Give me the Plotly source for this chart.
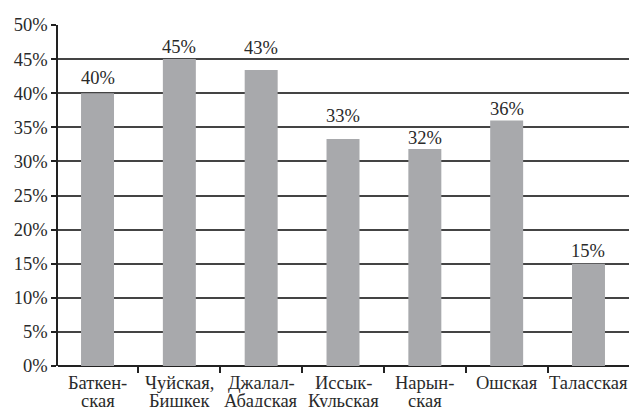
import plotly.graph_objects as go

cat_line1 = ["Баткен-", "Чуйская,", "Джалал-", "Иссык-", "Нарын-", "Ошская", "Таласская"]
cat_line2 = ["ская", "Бишкек", "Абадская", "Кульская", "ская", "", ""]
values = [40, 45, 43.4, 33.3, 31.8, 36, 15]
value_labels = ["40%", "45%", "43%", "33%", "32%", "36%", "15%"]
y_ticks = [0, 5, 10, 15, 20, 25, 30, 35, 40, 45, 50]
y_tick_labels = [f"{v}%" for v in y_ticks]

# pixel lift of each value label above its bar (layout detail)
label_lift = [15, 12, 22, 23, 11, 11, 13]

FONT = "Liberation Serif"
TXT = "#2a2a2a"
FS = 18.5

xs = list(range(len(cat_line1)))

fig = go.Figure(go.Bar(
    x=xs,
    y=values,
    width=0.403,
    marker=dict(color="#a8a9ac", line=dict(width=0)),
    hoverinfo="skip",
))

for i, (v, lab, lift) in enumerate(zip(values, value_labels, label_lift)):
    fig.add_annotation(x=i, y=v, xref="x", yref="y", text=lab, showarrow=False,
                       yanchor="middle", yshift=lift,
                       font=dict(family=FONT, size=FS, color=TXT))

for i, (l1, l2) in enumerate(zip(cat_line1, cat_line2)):
    fig.add_annotation(x=i, y=0, xref="x", yref="paper", text=l1, showarrow=False,
                       yanchor="middle", yshift=-17, borderpad=0,
                       font=dict(family=FONT, size=FS, color=TXT))
    if l2:
        fig.add_annotation(x=i, y=0, xref="x", yref="paper", text=l2, showarrow=False,
                           yanchor="middle", yshift=-35, borderpad=0,
                           font=dict(family=FONT, size=FS, color=TXT))

fig.update_layout(
    width=629, height=407,
    margin=dict(l=58, r=0, t=25, b=41, autoexpand=False),
    paper_bgcolor="white", plot_bgcolor="white",
    font=dict(family=FONT, size=FS, color=TXT),
    showlegend=False,
)

fig.update_xaxes(
    range=[-0.483, 6.495],
    tickmode="array",
    tickvals=[i - 0.5 for i in xs],
    ticks="outside", ticklen=6, tickwidth=1.5, tickcolor="#222",
    showticklabels=False,
    showgrid=False,
    showline=False,
    zeroline=False,
    automargin=False,
)

fig.update_yaxes(
    range=[0, 50],
    tickmode="array",
    tickvals=y_ticks,
    ticktext=y_tick_labels,
    showgrid=True,
    gridcolor="#444444",
    gridwidth=1.5,
    showline=True,
    linecolor="#222",
    linewidth=1.5,
    ticks="outside",
    ticklen=5,
    tickwidth=1.5,
    tickcolor="#222",
    zeroline=True,
    zerolinecolor="#222",
    zerolinewidth=1.5,
    automargin=False,
    tickfont=dict(family=FONT, size=FS, color=TXT),
)

fig.write_html("out.html", config={"displayModeBar": False},
               post_script="document.body.style.margin='0';")
